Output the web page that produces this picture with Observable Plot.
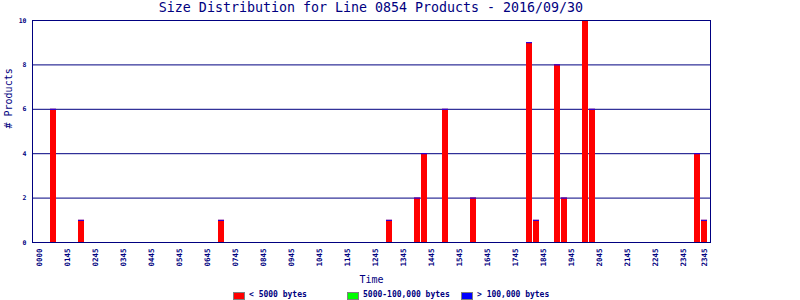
<!DOCTYPE html>
<html>
<head>
<meta charset="utf-8">
<script src="https://cdn.jsdelivr.net/npm/d3@7"></script>
<script src="https://cdn.jsdelivr.net/npm/@observablehq/plot@0.6"></script>
<style>
  body { margin: 0; background: #fff; width: 800px; height: 300px; overflow: hidden; font-family: "DejaVu Sans Mono", monospace; }
  #title { height: 16px; line-height: 16px; font-size: 13.3px; color: #000080; text-align: center; width: 742px; white-space: nowrap; }
  #legend { position: relative; height: 16px; font-size: 8px; font-weight: bold; color: #000080; }
  .sw { position: absolute; top: 8px; width: 10px; height: 6px; border: 1px solid #808080; }
  .lt { position: absolute; top: 6px; line-height: 10px; white-space: nowrap; }
</style>
</head>
<body>
<div id="title">Size Distribution for Line 0854 Products - 2016/09/30</div>
<div id="chart"></div>
<div id="legend"></div>
<script>
// 15-minute time slots (0..95) that have products, and counts per size class
const barSlots     = [2, 6, 26, 50, 54, 55, 58, 62, 70, 71, 74, 75, 78, 79, 94, 95];
const smallCounts  = [6, 1, 1, 1, 2, 4, 6, 2, 9, 1, 8, 2, 10, 6, 4, 1];   // < 5000 bytes
const mediumCounts = [0, 0, 0, 0, 0, 0, 0, 0, 0, 0, 0, 0, 0, 0, 0, 0];    // 5000-100,000 bytes
const largeCounts  = [0, 0, 0, 0, 0, 0, 0, 0, 0, 0, 0, 0, 0, 0, 0, 0];    // > 100,000 bytes

const slotCount = 96;
const tickSlots  = [0, 4, 8, 12, 16, 20, 24, 28, 32, 36, 40, 44, 48, 52, 56, 60, 64, 68, 72, 76, 80, 84, 88, 92, 95];
const tickLabels = ["0000","0145","0245","0345","0445","0545","0645","0745","0845","0945","1045","1145","1245","1345","1445","1545","1645","1745","1845","1945","2045","2145","2245","2345","2345"];
const yTicks = [0, 2, 4, 6, 8, 10];

const seriesNames  = ["< 5000 bytes", "5000-100,000 bytes", "> 100,000 bytes"];
const seriesColors = ["#ff0000", "#00ff00", "#0000ff"];

const navy = "#000080";
const rows = [];
barSlots.forEach((s, i) => {
  rows.push({slot: s, series: seriesNames[0], count: smallCounts[i]});
  rows.push({slot: s, series: seriesNames[1], count: mediumCounts[i]});
  rows.push({slot: s, series: seriesNames[2], count: largeCounts[i]});
});
const totals = barSlots.map((s, i) => ({slot: s, total: smallCounts[i] + mediumCounts[i] + largeCounts[i]}));
const labelOf = new Map(tickSlots.map((s, i) => [s, tickLabels[i]]));

const chart = Plot.plot({
  width: 800,
  height: 268,
  marginTop: 4,
  marginBottom: 42,
  marginLeft: 32,
  marginRight: 90,
  style: {fontFamily: "'DejaVu Sans Mono', monospace", color: navy, background: "#fff"},
  x: {type: "band", domain: d3.range(slotCount), paddingInner: 1/7, paddingOuter: 0, insetLeft: 4, insetRight: 3},
  y: {domain: [0, 10]},
  color: {domain: seriesNames, range: seriesColors},
  marks: [
    Plot.ruleY(yTicks.filter(d => d > 0 && d < 10), {stroke: navy, strokeWidth: 1}),
    Plot.barY(rows, Plot.stackY({x: "slot", y: "count", fill: "series", order: seriesNames})),
    Plot.tickY(totals, {x: "slot", y: "total", stroke: seriesColors[2], strokeWidth: 1}),
    Plot.frame({stroke: navy, strokeWidth: 1}),
    Plot.axisX({ticks: tickSlots, tickFormat: d => labelOf.get(d), tickRotate: -90, tickSize: 0, tickPadding: 6,
                fontSize: 7.5, fontWeight: "bold", fill: navy, label: null}),
    Plot.axisY({ticks: yTicks, tickSize: 0, tickPadding: 6, fontSize: 6.5, fontWeight: "bold", fill: navy, label: null}),
    Plot.text(["Time"], {frameAnchor: "bottom", dy: 40, lineAnchor: "bottom", fontSize: 10, fill: navy}),
    Plot.text(["# Products"], {frameAnchor: "left", dx: -24, dy: -3, rotate: -90, fontSize: 10, fill: navy})
  ]
});
document.getElementById("chart").appendChild(chart);

const legend = document.getElementById("legend");
const swX = [233, 347, 461];
seriesNames.forEach((name, i) => {
  const sw = document.createElement("div");
  sw.className = "sw";
  sw.style.left = swX[i] + "px";
  sw.style.background = seriesColors[i];
  legend.appendChild(sw);
  const t = document.createElement("div");
  t.className = "lt";
  t.style.left = (swX[i] + 16) + "px";
  t.textContent = name;
  legend.appendChild(t);
});
</script>
</body>
</html>
